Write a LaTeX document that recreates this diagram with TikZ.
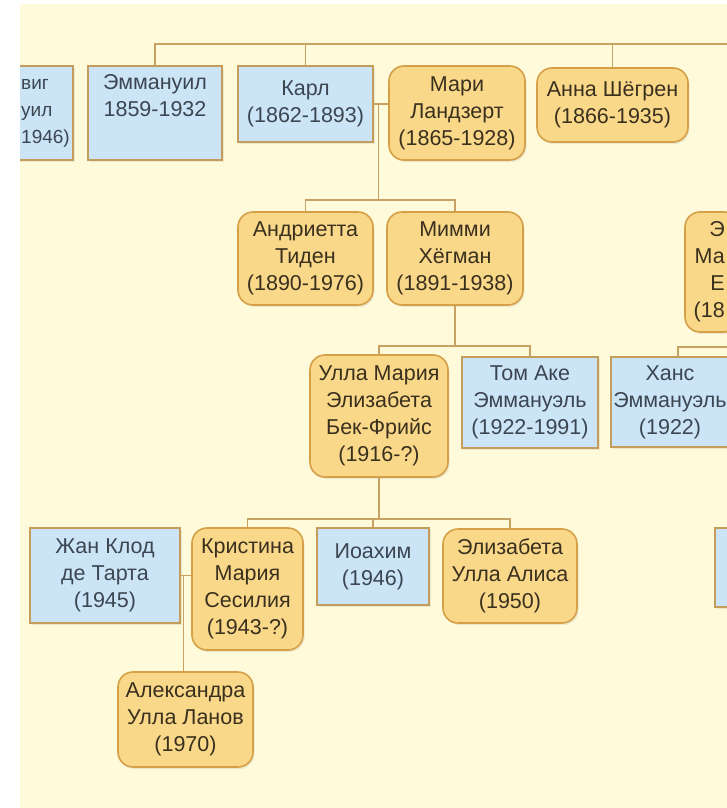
\documentclass[tikz,border=0pt]{standalone}
\usepackage{fontspec}
\setmainfont{Liberation Sans}
\usetikzlibrary{calc,shadows}
\definecolor{bgcream}{RGB}{255,251,218}
\definecolor{boxblue}{RGB}{204,229,246}
\definecolor{boxgold}{RGB}{250,216,138}
\definecolor{rimtan}{RGB}{196,156,92}
\definecolor{rimgold}{RGB}{214,160,72}
\definecolor{linetan}{RGB}{200,162,100}
\definecolor{inkblue}{RGB}{60,70,82}
\definecolor{inkbrown}{RGB}{58,48,30}

\begin{document}
\begin{tikzpicture}[x=1pt,y=-1pt,font=\fontsize{21.5}{27}\selectfont,
  male/.style={draw=rimtan,line width=1.6pt,fill=boxblue,text=inkblue,align=center,inner sep=0pt,
    drop shadow={opacity=0.15,shadow xshift=1.5pt,shadow yshift=-2pt}},
  female/.style={draw=rimgold,line width=1.6pt,fill=boxgold,text=inkbrown,align=center,inner sep=0pt,
    rounded corners=15pt,drop shadow={opacity=0.15,shadow xshift=1.5pt,shadow yshift=-2pt}},
  link/.style={draw=linetan,line width=1.4pt}]
\useasboundingbox (0,0) rectangle (727,808);
\fill[bgcream] (20,4) rectangle (727,808);
\begin{scope}
\clip (20,4) rectangle (727,808);
\node[male,minimum width=63pt,minimum height=94pt] (lud) at (41.5,113) {};
\node[anchor=west,align=left,inner sep=0pt,text=inkblue,font=\fontsize{19}{27}\selectfont] (ludname) at (21,113) {виг\\уил\\1946)};
\node[male,minimum width=134pt,minimum height=94pt] (emm) at (155,113) {Эммануил\\1859-1932\\\strut};
\node[male,minimum width=135pt,minimum height=76pt] (karl) at (305.5,104) {Карл\\(1862-1893)};
\node[female,minimum width=136pt,minimum height=94pt] (mari) at (457,113) {Мари\\Ландзерт\\(1865-1928)};
\node[female,minimum width=151pt,minimum height=74pt] (anna) at (612.5,105) {Анна Шёгрен\\(1866-1935)};
\node[female,minimum width=135pt,minimum height=93pt] (andr) at (305.5,258.5) {Андриетта\\Тиден\\(1890-1976)};
\node[female,minimum width=136pt,minimum height=93pt] (mimmi) at (455,258.5) {Мимми\\Хёгман\\(1891-1938)};
\node[female,minimum width=54pt,minimum height=120pt] (emma) at (712,272) {};
\node[anchor=east,align=right,inner sep=0pt,text=inkbrown] (emmaname) at (725,272) {Э\\Ма\\Е\\(18};
\node[female,minimum width=138pt,minimum height=122pt] (ulla) at (379,416) {Улла Мария\\Элизабета\\Бек-Фрийс\\(1916-?)};
\node[male,minimum width=136pt,minimum height=91pt] (tom) at (530,402.5) {Том Аке\\Эммануэль\\(1922-1991)};
\node[male,minimum width=134pt,minimum height=90pt] (hans) at (678,402) {};
\node[align=center,inner sep=0pt,text=inkblue] (hansname) at (670,402) {Ханс\\Эммануэль\\(1922)};
\node[male,minimum width=150pt,minimum height=95pt] (jean) at (105,575.5) {Жан Клод\\де Тарта\\(1945)};
\node[female,minimum width=111pt,minimum height=122pt] (krist) at (247.5,589) {Кристина\\Мария\\Сесилия\\(1943-?)};
\node[male,minimum width=112pt,minimum height=77pt] (joach) at (373,566.5) {Иоахим\\(1946)};
\node[female,minimum width=134pt,minimum height=94pt] (eliz) at (510,576) {Элизабета\\Улла Алиса\\(1950)};
\node[male,minimum width=45pt,minimum height=79pt] (rblue) at (737.5,567.5) {};
\node[female,minimum width=135pt,minimum height=95pt] (alex) at (185.5,719.5) {Александра\\Улла Ланов\\(1970)};

\coordinate (topbar) at (740,44);
\draw[link] (emm.north) |- (topbar);
\draw[link] (karl.north) -- (karl.north |- topbar);
\draw[link] (anna.north) -- (anna.north |- topbar);
\draw[link] (karl.east) -- (karl.east -| mari.west);
\coordinate (km) at ($(karl.east)!0.31!(karl.east -| mari.west)$);
\coordinate (bar2) at ($(km)+(0,96)$);
\draw[link] (km) -- (bar2);
\draw[link] (andr.north) |- (bar2) -| (mimmi.north);
\draw[link] (mimmi.south) -- ++(0,40) coordinate (bar3);
\draw[link] (ulla.north) |- (bar3) -| (tom.north);
\coordinate (bar3r) at (740,347);
\draw[link] (hans.north) |- (bar3r);
\draw[link] (ulla.south) -- ++(0,41) coordinate (bar4);
\draw[link] (krist.north) |- (bar4) -| (eliz.north);
\draw[link] (joach.north) -- (joach.north |- bar4);
\draw[link] (jean.east) -- (jean.east -| krist.west);
\coordinate (jk) at ($(jean.east)!0.25!(jean.east -| krist.west)$);
\draw[link] (jk) -- (jk |- alex.north);
\end{scope}
\end{tikzpicture}
\end{document}
